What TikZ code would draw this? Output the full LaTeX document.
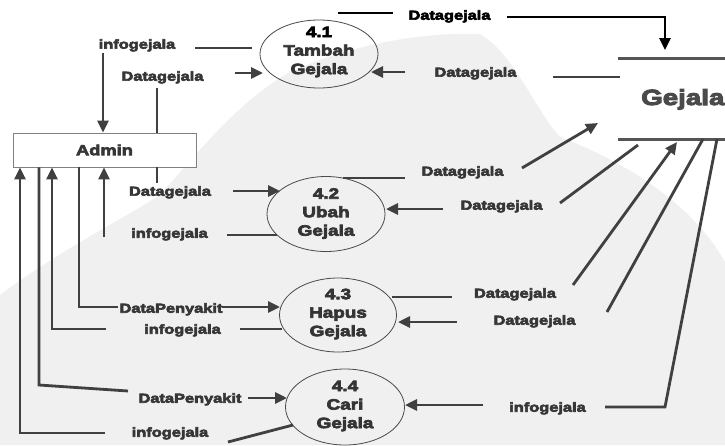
\documentclass[tikz,border=0pt]{standalone}
\usepackage{fontspec}
\usetikzlibrary{arrows.meta,shapes.geometric}
\newfontfamily\lblfont[FakeStretch=1.26,FakeBold=4.5]{Liberation Sans Bold}
\definecolor{lc}{HTML}{404040}
\definecolor{lt}{HTML}{363636}
\definecolor{ec}{HTML}{4A4A4A}
\definecolor{pt}{HTML}{343434}
\definecolor{sc}{HTML}{555555}
\definecolor{wm}{HTML}{F0F0F0}
\begin{document}
\begin{tikzpicture}[x=1pt,y=-1pt,
  flow/.style={line width=2.8pt,draw=lc},
  arr/.style={flow,-{Triangle[length=12pt,width=11pt]}},
  topflow/.style={line width=2.6pt,draw=black},
  lbl/.style={font=\lblfont\fontsize{13}{13}\selectfont,text=lt,inner sep=0pt,text height=9.4pt,text depth=0pt},
  proc/.style={ellipse,draw=ec,line width=0.8pt,inner sep=0pt},
  ptext/.style={font=\lblfont\fontsize{15}{18.5}\selectfont,align=center,text=pt,inner sep=0pt},
  storeline/.style={line width=3pt,draw=sc}]
\useasboundingbox (0,0) rectangle (725,445);
% background shading
\begin{scope}
  \clip (0,0) rectangle (725,445);
  \fill[white] (0,0) rectangle (725,445);
  \fill[wm] (0,295) .. controls (60,250) and (130,215) .. (160,195)
     .. controls (200,150) and (240,100) .. (290,72)
     .. controls (350,45) and (420,32) .. (480,34)
     .. controls (515,55) and (535,110) .. (560,137)
     .. controls (620,160) and (690,200) .. (725,262)
     -- (725,445) -- (0,445) -- cycle;
\end{scope}

% processes
\node[proc,minimum width=118pt,minimum height=68pt] (p41) at (319,54) {};
\node[ptext] (p41t) at (319,52) {\textcolor{black}{4.1}\\Tambah\\Gejala};
\node[proc,minimum width=118pt,minimum height=75pt] (p42) at (326,214) {};
\node[ptext] (p42t) at (326,213.5) {4.2\\Ubah\\Gejala};
\node[proc,minimum width=117pt,minimum height=74pt] (p43) at (338,315) {};
\node[ptext] (p43t) at (338,314) {4.3\\Hapus\\Gejala};
\node[proc,minimum width=119pt,minimum height=76pt] (p44) at (345,407) {};
\node[ptext] (p44t) at (345,406) {4.4\\Cari\\Gejala};

% external entity
\node[draw=gray,line width=0.8pt,fill=white,minimum width=183pt,minimum height=34pt,inner sep=0pt,
      font=\lblfont\fontsize{14.5}{14.5}\selectfont,text=lt] (admin) at (104.5,150) {Admin};

% data store
\node[minimum width=107pt,minimum height=80pt,inner sep=0pt] (store) at (671.5,99) {};
\draw[storeline] (store.north west) -- (store.north east);
\draw[storeline] (store.south west) -- (store.south east);
\node[anchor=west,inner sep=0pt,font=\lblfont\fontsize{22}{22}\selectfont,text=ec,text height=16pt,text depth=0pt] (storet) at (641,97) {Gejala};

% flow labels
\node[lbl,text=black] (l1) at (449.5,15) {Datagejala};
\node[lbl] (l2) at (137,44) {infogejala};
\node[lbl] (l3) at (162.5,76) {Datagejala};
\node[lbl] (l4) at (475.5,72) {Datagejala};
\node[lbl] (l5) at (462.5,171) {Datagejala};
\node[lbl] (l6) at (501.5,205) {Datagejala};
\node[lbl] (l7) at (515,293) {Datagejala};
\node[lbl] (l8) at (534.5,320) {Datagejala};
\node[lbl] (l9) at (547.5,407) {infogejala};
\node[lbl] (l10) at (169.5,233) {infogejala};
\node[lbl] (l11) at (170,191) {Datagejala};
\node[lbl] (l12) at (171,308) {DataPenyakit};
\node[lbl] (l13) at (182.5,329) {infogejala};
\node[lbl] (l14) at (190,398) {DataPenyakit};
\node[lbl] (l15) at (170,432) {infogejala};

% flow end points
\coordinate (a1) at (338,13);  \coordinate (a2) at (393,13);
\coordinate (a3) at (507,17);  \coordinate (a4) at (665,17);  \coordinate (a5) at (665,50);
\coordinate (b1) at (252,48);  \coordinate (b2) at (195,48);  \coordinate (b3) at (103,53);
\coordinate (c1) at (157,88);  \coordinate (c2) at (235,73);  \coordinate (c3) at (263,73);
\coordinate (d1) at (620,77);  \coordinate (d2) at (553,77);  \coordinate (d3) at (405,72);  \coordinate (d4) at (371,72);
\coordinate (e1) at (343,178); \coordinate (e2) at (405,178); \coordinate (e3) at (522,168); \coordinate (e4) at (598,123);
\coordinate (f1) at (638,145); \coordinate (f2) at (560,203); \coordinate (f3) at (443,209); \coordinate (f4) at (386,209);
\coordinate (g1) at (392,297); \coordinate (g2) at (452,297); \coordinate (g3) at (573,285); \coordinate (g4) at (677,142);
\coordinate (h1) at (703,139); \coordinate (h2) at (607,312); \coordinate (h3) at (457,322); \coordinate (h4) at (398,322);
\coordinate (k1) at (717,139); \coordinate (k2) at (665,407); \coordinate (k3) at (605,407); \coordinate (k4) at (483,405); \coordinate (k5) at (405,405);
\coordinate (m1) at (277,235); \coordinate (m2) at (227,235); \coordinate (m3) at (104,237);
\coordinate (n1) at (157,183); \coordinate (n2) at (233,191); \coordinate (n3) at (280,191);
\coordinate (q1) at (79,307);  \coordinate (q2) at (118,307); \coordinate (q3) at (222,307); \coordinate (q4) at (280,307);
\coordinate (r1) at (282,329); \coordinate (r2) at (240,329); \coordinate (r3) at (106,329); \coordinate (r4) at (52,329);
\coordinate (s1) at (39,385);  \coordinate (s2) at (128,391); \coordinate (s3) at (248,398); \coordinate (s4) at (287,398);
\coordinate (u1) at (293,425); \coordinate (u2) at (228,442); \coordinate (u3) at (105,433); \coordinate (u4) at (20,433);

% 4.1 -> Gejala
\draw[topflow] (a1) -- (a2);
\draw[topflow,-{Triangle[length=12pt,width=11pt]}] (a3) -- (a4) -- (a5);
% 4.1 -> Admin
\draw[flow] (b1) -- (b2);
\draw[arr] (b3) -- (b3 |- admin.north);
% Admin -> 4.1
\draw[flow] (admin.north -| c1) -- (c1);
\draw[arr] (c2) -- (c3);
% Gejala -> 4.1
\draw[flow] (d1) -- (d2);
\draw[arr] (d3) -- (d4);
% 4.2 -> Gejala
\draw[flow] (e1) -- (e2);
\draw[arr] (e3) -- (e4);
% Gejala -> 4.2
\draw[flow] (f1) -- (f2);
\draw[arr] (f3) -- (f4);
% 4.3 -> Gejala
\draw[flow] (g1) -- (g2);
\draw[arr] (g3) -- (g4);
% Gejala -> 4.3
\draw[flow] (h1) -- (h2);
\draw[arr] (h3) -- (h4);
% Gejala -> 4.4
\draw[flow] (k1) -- (k2) -- (k3);
\draw[arr] (k4) -- (k5);
% 4.2 -> Admin
\draw[flow] (m1) -- (m2);
\draw[arr] (m3) -- (m3 |- admin.south);
% Admin -> 4.2
\draw[flow] (admin.south -| n1) -- (n1);
\draw[arr] (n2) -- (n3);
% Admin -> 4.3
\draw[flow] (admin.south -| q1) -- (q1) -- (q2);
\draw[arr] (q3) -- (q4);
% 4.3 -> Admin
\draw[flow] (r1) -- (r2);
\draw[arr] (r3) -- (r4) -- (r4 |- admin.south);
% Admin -> 4.4
\draw[flow] (admin.south -| s1) -- (s1) -- (s2);
\draw[arr] (s3) -- (s4);
% 4.4 -> Admin
\draw[flow] (u1) -- (u2);
\draw[arr] (u3) -- (u4) -- (u4 |- admin.south);
\end{tikzpicture}
\end{document}
